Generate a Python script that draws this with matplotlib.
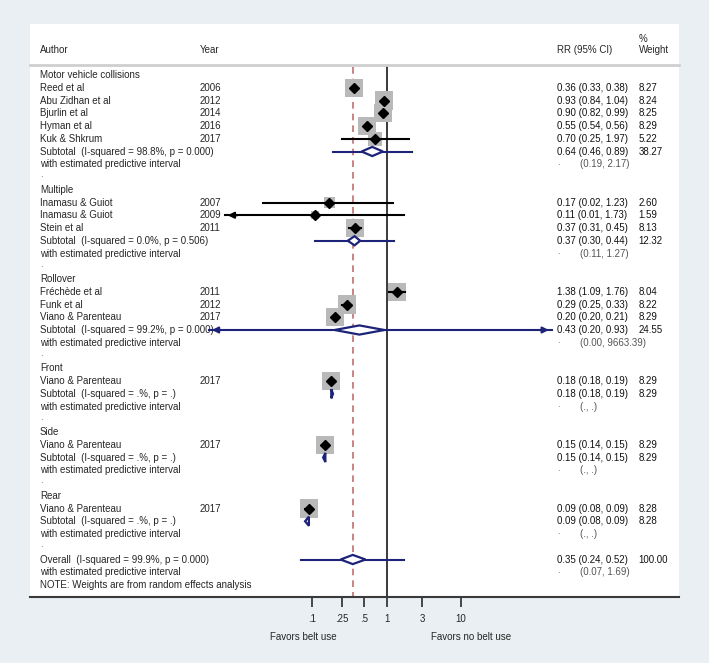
import matplotlib.pyplot as plt
import numpy as np
from matplotlib.transforms import blended_transform_factory
from matplotlib.patches import Polygon

plt.rcParams['font.family'] = ['Liberation Sans', 'DejaVu Sans']

# studies: row, author, year, estimate, lower, upper, weight
st_row = [1, 2, 3, 4, 5, 10, 11, 12, 17, 18, 19, 24, 29, 34]
st_author = ['Reed et al', 'Abu Zidhan et al', 'Bjurlin et al', 'Hyman et al', 'Kuk & Shkrum',
             'Inamasu & Guiot', 'Inamasu & Guiot', 'Stein et al',
             'Fréchède et al', 'Funk et al', 'Viano & Parenteau',
             'Viano & Parenteau', 'Viano & Parenteau', 'Viano & Parenteau']
st_year = ['2006', '2012', '2014', '2016', '2017', '2007', '2009', '2011',
           '2011', '2012', '2017', '2017', '2017', '2017']
st_est = [0.36, 0.93, 0.90, 0.55, 0.70, 0.17, 0.11, 0.37, 1.38, 0.29, 0.20, 0.18, 0.15, 0.09]
st_lo = [0.33, 0.84, 0.82, 0.54, 0.25, 0.022, 0.0067, 0.31, 1.09, 0.25, 0.20, 0.18, 0.14, 0.08]
st_hi = [0.38, 1.04, 0.99, 0.56, 1.97, 1.23, 1.73, 0.45, 1.76, 0.33, 0.21, 0.19, 0.15, 0.09]
st_rr = ['0.36 (0.33, 0.38)', '0.93 (0.84, 1.04)', '0.90 (0.82, 0.99)', '0.55 (0.54, 0.56)',
         '0.70 (0.25, 1.97)', '0.17 (0.02, 1.23)', '0.11 (0.01, 1.73)', '0.37 (0.31, 0.45)',
         '1.38 (1.09, 1.76)', '0.29 (0.25, 0.33)', '0.20 (0.20, 0.21)', '0.18 (0.18, 0.19)',
         '0.15 (0.14, 0.15)', '0.09 (0.08, 0.09)']
st_w = [8.27, 8.24, 8.25, 8.29, 5.22, 2.60, 1.59, 8.13, 8.04, 8.22, 8.29, 8.29, 8.29, 8.28]

# pooled estimates (subgroups + overall)
sub_row = [6, 13, 20, 25, 30, 35, 38]
sub_label = ['Subtotal  (I-squared = 98.8%, p = 0.000)', 'Subtotal  (I-squared = 0.0%, p = 0.506)',
             'Subtotal  (I-squared = 99.2%, p = 0.000)', 'Subtotal  (I-squared = .%, p = .)',
             'Subtotal  (I-squared = .%, p = .)', 'Subtotal  (I-squared = .%, p = .)',
             'Overall  (I-squared = 99.9%, p = 0.000)']
sub_est = [0.64, 0.37, 0.43, 0.18, 0.15, 0.09, 0.35]
sub_lo = [0.46, 0.30, 0.20, 0.18, 0.14, 0.08, 0.24]
sub_hi = [0.89, 0.44, 0.93, 0.19, 0.15, 0.09, 0.52]
sub_rr = ['0.64 (0.46, 0.89)', '0.37 (0.30, 0.44)', '0.43 (0.20, 0.93)', '0.18 (0.18, 0.19)',
          '0.15 (0.14, 0.15)', '0.09 (0.08, 0.09)', '0.35 (0.24, 0.52)']
sub_w = ['38.27', '12.32', '24.55', '8.29', '8.29', '8.28', '100.00']
pi_lo = [0.19, 0.11, 0.0041, None, None, None, 0.07]
pi_hi = [2.17, 1.27, 9663.39, None, None, None, 1.69]
pi_txt = ['(0.19, 2.17)', '(0.11, 1.27)', '(0.00, 9663.39)', '(., .)', '(., .)', '(., .)', '(0.07, 1.69)']

group_row = [0, 9, 16, 23, 28, 33]
group_name = ['Motor vehicle collisions', 'Multiple', 'Rollover', 'Front', 'Side', 'Rear']
dot_row = [8, 15, 22, 27, 32, 37]

ticks = [0.1, 0.25, 0.5, 1, 3, 10]
tick_labels = ['.1', '.25', '.5', '1', '3', '10']

bg = '#e9eff2'
navy = '#1c2378'
txt = '#262626'
clip_lo, clip_hi = 0.008, 165

fig = plt.figure(figsize=(7.09, 6.63), dpi=100, facecolor=bg)
ax = fig.add_axes([30 / 709, 1 - 597 / 663, 649 / 709, 573 / 663])
ax.set_facecolor('white')
ax.set_xscale('log')
ax.set_xlim(10 ** -4.794, 10 ** 3.929)
ax.set_ylim(40.94, -4.0)
for s in ['top', 'left', 'right']:
    ax.spines[s].set_visible(False)
ax.spines['bottom'].set_color('#3a3a3a')
ax.spines['bottom'].set_linewidth(1.5)
ax.set_yticks([])
ax.set_xticks(ticks)
ax.set_xticklabels(tick_labels)
ax.minorticks_off()
ax.tick_params(axis='x', direction='out', length=7, width=1.3, color='#3a3a3a',
               labelsize=7, labelcolor=txt, pad=5)
ax.text(0.421, -0.07, 'Favors belt use', transform=ax.transAxes, ha='center',
        va='center', fontsize=7, color=txt)
ax.text(0.680, -0.07, 'Favors no belt use', transform=ax.transAxes, ha='center',
        va='center', fontsize=7, color=txt)

# reference lines
ax.plot([1, 1], [-0.6, 40.94], color='#3a3a3a', lw=1.4, zorder=2)
ax.plot([sub_est[-1]] * 2, [-0.6, 40.94], color='#c07070', lw=1.2, ls=(0, (4, 3)), zorder=2)

tr = blended_transform_factory(ax.transAxes, ax.transData)
ax.plot([0, 1], [-0.78, -0.78], transform=tr, color='#cfcfcf', lw=2, clip_on=False)

# header
fs = 7
ax.text(0.0154, -1.96, 'Author', transform=tr, fontsize=fs, color=txt, va='center')
ax.text(0.262, -1.96, 'Year', transform=tr, fontsize=fs, color=txt, va='center')
ax.text(0.812, -1.96, 'RR (95% CI)', transform=tr, fontsize=fs, color=txt, va='center')
ax.text(0.938, -2.85, '%', transform=tr, fontsize=fs, color=txt, va='center')
ax.text(0.938, -1.96, 'Weight', transform=tr, fontsize=fs, color=txt, va='center')

for r, g in zip(group_row, group_name):
    ax.text(0.0154, r, g, transform=tr, fontsize=fs, color=txt, va='center')
for r in dot_row:
    ax.text(0.0154, r - 0.2, '.', transform=tr, fontsize=fs, color='#666666', va='center')

# studies
ax.scatter(st_est, st_row, s=[20.6 * w for w in st_w], marker='s', color='#b9b9b9', lw=0, zorder=3)
for r, a, y, e, lo, hi, rr, w in zip(st_row, st_author, st_year, st_est, st_lo, st_hi, st_rr, st_w):
    ax.text(0.0154, r, a, transform=tr, fontsize=fs, color=txt, va='center')
    ax.text(0.262, r, y, transform=tr, fontsize=fs, color=txt, va='center')
    ax.text(0.812, r, rr, transform=tr, fontsize=fs, color='#111111', va='center')
    ax.text(0.938, r, f'{w:.2f}', transform=tr, fontsize=fs, color='#111111', va='center')
    ax.plot([lo, hi], [r, r], color='black', lw=1.5, zorder=4)
    if lo < clip_lo:
        ax.annotate('', xy=(lo, r), xytext=(lo * 1.6, r),
                    arrowprops=dict(arrowstyle='-|>', color='black', lw=1.5, mutation_scale=9), zorder=4)
ax.plot(st_est, st_row, 'D', color='black', ms=5.2, zorder=5)

# pooled
for r, lab, e, lo, hi, rr, w, plo, phi, pt in zip(sub_row, sub_label, sub_est, sub_lo, sub_hi,
                                                   sub_rr, sub_w, pi_lo, pi_hi, pi_txt):
    ax.text(0.0154, r, lab, transform=tr, fontsize=fs, color=txt, va='center')
    ax.text(0.0154, r + 1, 'with estimated predictive interval', transform=tr, fontsize=fs,
            color=txt, va='center')
    ax.text(0.812, r, rr, transform=tr, fontsize=fs, color='#111111', va='center')
    ax.text(0.938, r, w, transform=tr, fontsize=fs, color='#111111', va='center')
    ax.text(0.812, r + 0.8, '.', transform=tr, fontsize=fs, color='#666666', va='center')
    ax.text(0.847, r + 1, pt, transform=tr, fontsize=fs, color='#555555', va='center')
    if plo is not None:
        x0 = plo
        x1 = min(phi, clip_hi)
        ax.plot([x0, x1], [r, r], color=navy, lw=1.5, zorder=3)
        if phi > clip_hi:
            ax.annotate('', xy=(x1, r), xytext=(x1 / 1.6, r),
                        arrowprops=dict(arrowstyle='-|>', color=navy, lw=1.5, mutation_scale=9), zorder=3)
        if plo < clip_lo:
            ax.annotate('', xy=(x0, r), xytext=(x0 * 1.6, r),
                        arrowprops=dict(arrowstyle='-|>', color=navy, lw=1.5, mutation_scale=9), zorder=3)
    h = 0.36
    ax.add_patch(Polygon([(lo, r), (e, r - h), (hi, r), (e, r + h)], closed=True,
                         facecolor='white', edgecolor=navy, lw=1.6, zorder=6))

ax.text(0.0154, 40, 'NOTE: Weights are from random effects analysis', transform=tr,
        fontsize=fs, color=txt, va='center')

fig.savefig('out.png', dpi=100, facecolor=bg)
